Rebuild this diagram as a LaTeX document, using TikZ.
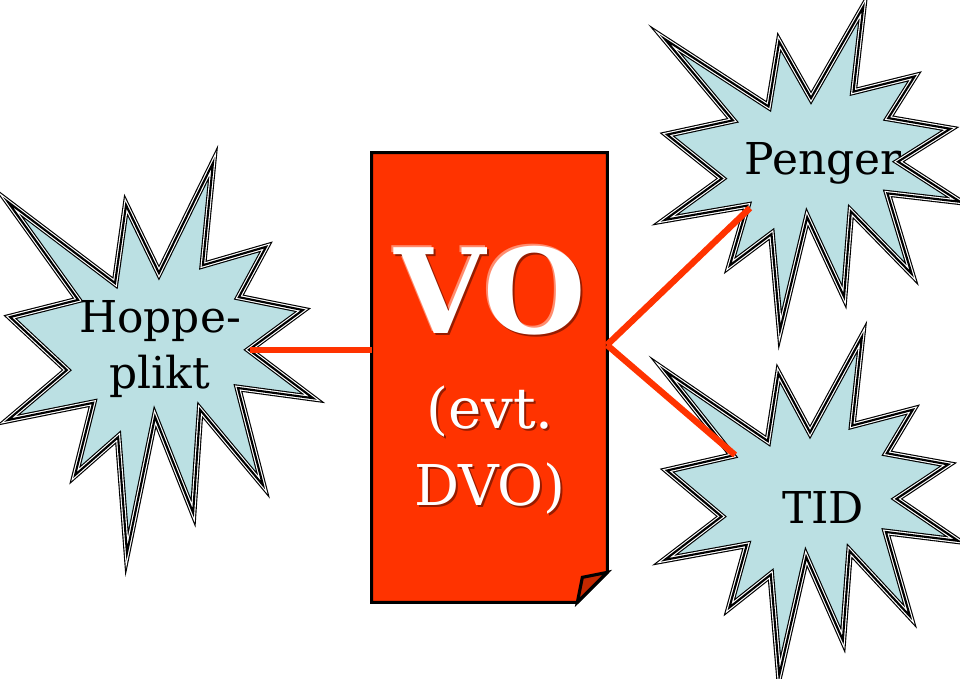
\documentclass[tikz,border=0pt]{standalone}
\usepackage{fontspec}
\setmainfont{DejaVu Serif}
\usepackage{tikz}
\usetikzlibrary{calc,positioning}

\definecolor{burstfill}{RGB}{187,224,227}
\definecolor{voorange}{RGB}{255,51,0}
\definecolor{folddark}{RGB}{196,40,0}
\definecolor{shadowdark}{RGB}{150,28,0}
\definecolor{shadowlight}{RGB}{255,140,110}

\def\burstpath{(0,0.10) -- (0.351,0.308) -- (0.387,0.108) -- (0.495,0.282) -- (0.672,0) -- (0.639,0.262) -- (0.846,0.215) -- (0.757,0.344) -- (0.967,0.377) -- (0.790,0.479) -- (1,0.603) -- (0.754,0.577) -- (0.836,0.826) -- (0.630,0.633) -- (0.607,0.897) -- (0.482,0.651) -- (0.390,1) -- (0.361,0.703) -- (0.220,0.800) -- (0.279,0.615) -- (0,0.659) -- (0.193,0.531) -- (0.007,0.395) -- (0.230,0.351) -- cycle}

% explosion shape: left, top, width, height
\newcommand{\burst}[4]{
  \begin{scope}[shift={(#1,#2)}, xscale=#3, yscale=#4]
    \fill[burstfill] \burstpath;
    \draw[black, line width=3.8pt] \burstpath;
    \draw[white, line width=2.5pt] \burstpath;
    \draw[black, line width=1.2pt] \burstpath;
  \end{scope}
}

\tikzset{
  link/.style={voorange, line width=3.6pt},
  burstlabel/.style={font=\fontsize{25}{32}\selectfont, align=center, inner sep=0pt},
  votitle/.style={font=\fontsize{67}{67}\selectfont\bfseries, inner sep=0pt},
  vosub/.style={font=\fontsize{32}{43.6}\selectfont, align=center, inner sep=0pt}
}

\begin{document}
\begin{tikzpicture}[x=0.02cm, y=-0.02cm, line join=miter]
            \useasboundingbox (0,0) rectangle (960,679);

            \burst{8}{163}{305}{390}
            \burst{665}{7}{295}{323}
            \burst{665}{337}{293}{338}

            \node[minimum width=235*0.02cm, minimum height=449*0.02cm, inner sep=0pt] (doc) at (489.5,377.5) {};
            \filldraw[fill=voorange, draw=black, line width=1.8pt]
                (doc.north west) -- (doc.north east) -- ($(doc.south east)+(0,-30)$)
                -- ($(doc.south east)+(-30,0)$) -- (doc.south west) -- cycle;
            \filldraw[fill=folddark, draw=black, line width=1.8pt]
                ($(doc.south east)+(-30,0)$) -- ($(doc.south east)+(-25,-25)$)
                -- ($(doc.south east)+(0,-30)$) -- cycle;

            \coordinate (hopp) at (250,350);
            \coordinate (hub) at (607,345);
            \coordinate (peng) at (750,208);
            \coordinate (tid) at (735,455);
            \draw[link] (hopp) -- (doc.west |- hopp);
            \draw[link] (hub) -- (peng);
            \draw[link] (hub) -- (tid);

            \node[burstlabel] (hoppe) at (160,349) {Hoppe-\\plikt};
            \node[burstlabel] (penger) at (823,163) {Penger};
            \node[burstlabel] (tidlabel) at (823,507) {TID};

            \node[votitle, shadowlight] (vo-lt) at (488,289) {VO};
            \node[votitle, shadowdark] (vo-dk) at (492,293) {VO};
            \node[votitle, white] (vo) at (490,291) {VO};

            \node[vosub, shadowdark] (dvo-dk) at (492,452) {(evt.\\DVO)};
            \node[vosub, white] (dvo) at (490,450) {(evt.\\DVO)};
        \end{tikzpicture}
\end{document}
